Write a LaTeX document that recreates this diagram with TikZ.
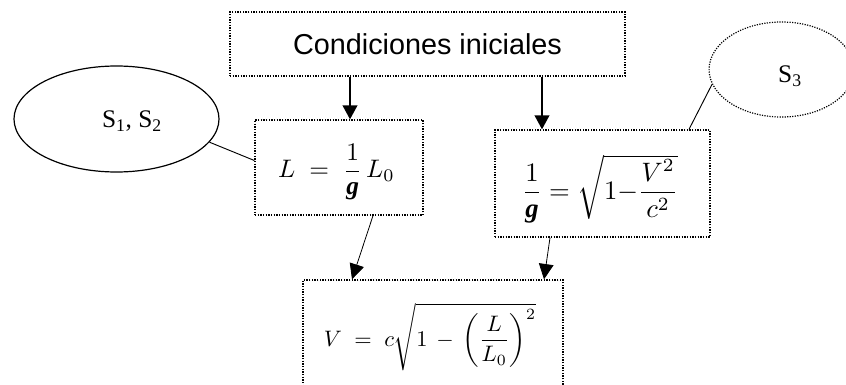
\documentclass[tikz,border=0pt]{standalone}
\usepackage{amsmath}
\usepackage{fontspec}
\setmainfont{Liberation Serif}
\newfontfamily\arialf{Liberation Sans}
\usetikzlibrary{arrows.meta,shapes.geometric,calc}
\newcommand{\bg}{\mbox{\bfseries\itshape g}}
\tikzset{
  dbox/.style={draw, line width=1pt, densely dotted, inner sep=0pt, rectangle},
  bigarrow/.style={line width=1.5pt, -{Triangle[length=10.5pt,width=11pt]}},
  thinarrow/.style={line width=0.6pt, -{Triangle[length=11.5pt,width=11pt]}},
  link/.style={line width=0.7pt},
}
\begin{document}
\begin{tikzpicture}[x=0.75pt,y=-0.75pt]
\useasboundingbox (0,0) rectangle (846,385);
\clip (0,0) rectangle (846,385);
% boxes
\node[dbox, minimum width=296.25pt, minimum height=48pt] (top) at (427.5,44) {\arialf\fontsize{21.6}{25}\selectfont Condiciones iniciales};
\node[dbox, minimum width=126pt, minimum height=71.25pt] (Lbox) at (339,167.5) {};
\node (Lform) at (336.5,172) {\scalebox{1.9}{$L \;=\; \dfrac{1}{\bg}\, L_{0}$}};
\node[dbox, minimum width=161.25pt, minimum height=80.25pt] (Rbox) at (602.5,183.5) {};
\node (Rform) at (600,189) {\scalebox{2}{$\dfrac{1}{\bg} = \sqrt{1{-}\dfrac{V^{2}}{c^{2}}}$}};
\node[dbox, minimum width=195pt, minimum height=97.5pt] (Bbox) at (433,345) {};
\node (Bform) at (430,337) {\scalebox{1.68}{$V \;=\; c\sqrt{1 \,-\, \left(\dfrac{L}{L_{0}}\right)^{2}}$}};
% ellipses
\node[draw, ellipse, line width=0.9pt, minimum width=153.75pt, minimum height=79.5pt, inner sep=0pt] (S12) at (116.5,119) {};
\node (S12t) at (132,121) {\fontsize{19}{22}\selectfont S\textsubscript{1}, S\textsubscript{2}};
\node[draw, ellipse, line width=0.9pt, densely dotted, minimum width=108.75pt, minimum height=71.25pt, inner sep=0pt] (S3) at (781.6,69.5) {};
\node (S3t) at (790,76) {\fontsize{19}{22}\selectfont S\textsubscript{3}};
% connectors
\coordinate (xa) at (350,0);
\coordinate (xb) at (542,0);
\draw[bigarrow] (top.south -| xa) -- (Lbox.north -| xa);
\draw[bigarrow] (top.south -| xb) -- (Rbox.north -| xb);
\draw[thinarrow] ($(Lbox.south)+(34,0)$) -- ($(Bbox.north)+(-81,0)$);
\draw[thinarrow] ($(Rbox.south)+(-52.5,0)$) -- ($(Bbox.north)+(111,0)$);
\draw[link] (S12.-14.5) -- ($(Lbox.west)+(0,-7)$);
\draw[link] (S3.192) -- ($(Rbox.north)+(86.5,0)$);
\end{tikzpicture}
\end{document}
